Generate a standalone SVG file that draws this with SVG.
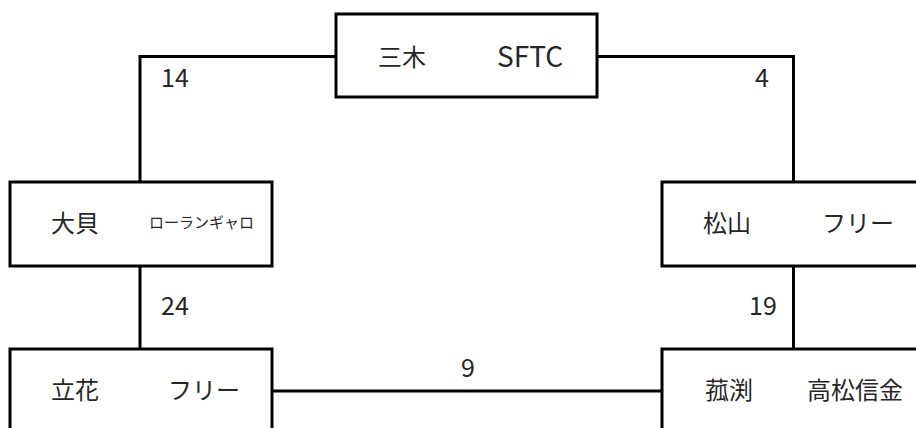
<svg xmlns="http://www.w3.org/2000/svg" width="916" height="428" viewBox="0 0 916 428">
<style>
.box{fill:#fff;stroke:#000;stroke-width:3}
.ln{fill:none;stroke:#000;stroke-width:3}
text{font-family:"Noto Sans CJK JP","Noto Sans",sans-serif;font-size:24px;fill:#262626}
.sm{font-size:15px}
.num{font-size:25px}
.lat{font-size:28px}
</style>
<rect width="916" height="428" fill="#fff"/>
<g id="connectors">
<polyline class="ln" points="336,56.5 140,56.5 140,182"/>
<polyline class="ln" points="598,56.5 793.5,56.5 793.5,182"/>
<line class="ln" x1="140" y1="266" x2="140" y2="349"/>
<line class="ln" x1="793.5" y1="266" x2="793.5" y2="349"/>
<line class="ln" x1="272" y1="391" x2="662" y2="391"/>
<text class="num" x="161" y="87">14</text>
<text class="num" x="755" y="87">4</text>
<text class="num" x="161" y="315">24</text>
<text class="num" x="749" y="315">19</text>
<text class="num" x="461" y="377">9</text>
</g>
<g id="n-miki">
<rect class="box" x="336" y="14" width="261" height="83"/>
<text x="378" y="66">三木</text>
<text class="lat" x="497" y="67">SFTC</text>
</g>
<g id="n-ogai">
<rect class="box" x="10" y="182" width="262" height="84"/>
<text x="51" y="232">大貝</text>
<text class="sm" x="149" y="228">ローランギャロ</text>
</g>
<g id="n-matsuyama">
<rect class="box" x="662" y="182" width="260" height="84"/>
<text x="703" y="232">松山</text>
<text x="822" y="232">フリー</text>
</g>
<g id="n-tachibana">
<rect class="box" x="10" y="349" width="262" height="90"/>
<text x="51" y="399">立花</text>
<text x="168" y="399">フリー</text>
</g>
<g id="n-komobuchi">
<rect class="box" x="662" y="349" width="260" height="90"/>
<text x="705" y="399">菰渕</text>
<text x="807" y="399">高松信金</text>
</g>
</svg>
